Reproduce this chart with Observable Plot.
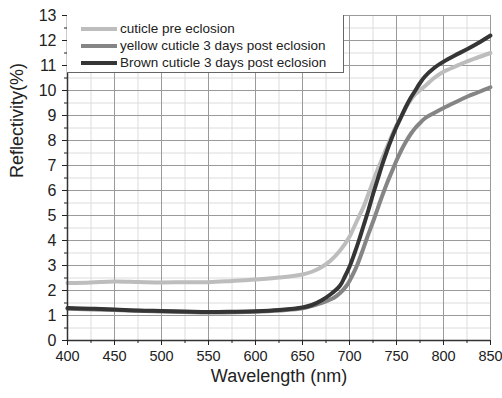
<!DOCTYPE html>
<html><head><meta charset="utf-8">
<script src="https://cdn.jsdelivr.net/npm/d3@7"></script>
<script src="https://cdn.jsdelivr.net/npm/@observablehq/plot@0.6"></script>
<style>
body{margin:0;background:#fff;font-family:"Liberation Sans",Arial,sans-serif;}
#wrap{position:relative;width:502px;height:398px;}
#legend{position:absolute;left:67px;top:15px;width:277px;height:58px;box-sizing:border-box;background:#fff;border:1px solid #666;border-top:none;border-left:none;padding-top:5px;}
.row{display:flex;align-items:center;height:17px;font-size:13.5px;color:#222;white-space:nowrap;}
.sw{width:36px;height:4px;margin-left:14px;margin-right:3px;}
</style></head><body>
<div id="wrap"><div id="legend"></div></div>
<script>
const seriesNames = ["cuticle pre eclosion","yellow cuticle 3 days post eclosion","Brown cuticle 3 days post eclosion"];
const seriesColors = ["#bdbdbd","#858585","#353535"];

const preNm = [400,425,450,475,500,525,550,575,600,625,650,660,670,680,690,700,705,710,715,720,725,730,735,740,745,750,757,763,770,781,790,800,812,823,835,850];
const preVal = [2.30,2.32,2.36,2.34,2.32,2.33,2.33,2.38,2.44,2.52,2.64,2.75,2.93,3.2,3.6,4.15,4.55,4.95,5.35,5.85,6.35,6.85,7.3,7.75,8.2,8.6,9.1,9.5,9.85,10.2,10.5,10.75,10.95,11.13,11.3,11.5];

const yelNm = [400,450,500,550,600,650,670,683,690,697,703,708,713,718.6,726,733,740,745,750,755,760,765,770,775,780,790,800,812,825,837,850];
const yelVal = [1.27,1.22,1.16,1.12,1.15,1.29,1.5,1.7,1.9,2.2,2.6,3.0,3.5,4.1,4.85,5.6,6.3,6.75,7.2,7.6,7.95,8.25,8.5,8.7,8.88,9.1,9.3,9.52,9.75,9.93,10.13];

const brnNm = [400,425,450,475,500,525,550,575,600,625,650,660,670,680,690,695,700,705,710,715,720,725,730,735,740,745,750,755,760,765,770,775,780,790,800,812,825,837,850];
const brnVal = [1.30,1.27,1.24,1.20,1.18,1.16,1.14,1.15,1.17,1.22,1.32,1.42,1.6,1.85,2.2,2.55,2.95,3.45,4.0,4.6,5.2,5.85,6.45,7.05,7.6,8.1,8.55,8.95,9.35,9.7,10.0,10.3,10.55,10.9,11.15,11.4,11.65,11.9,12.2];

const xMajor = [400,450,500,550,600,650,700,750,800,850];
const xMinor = [425,475,525,575,625,675,725,775,825];
const yMajor = [0,1,2,3,4,5,6,7,8,9,10,11,12,13];
const yMinor = [0.5,1.5,2.5,3.5,4.5,5.5,6.5,7.5,8.5,9.5,10.5,11.5,12.5];

const table = [
  ...preNm.map((x,i)=>({x, y:preVal[i], s:seriesNames[0]})),
  ...yelNm.map((x,i)=>({x, y:yelVal[i], s:seriesNames[1]})),
  ...brnNm.map((x,i)=>({x, y:brnVal[i], s:seriesNames[2]}))
];

const chart = Plot.plot({
  width:502, height:398,
  marginLeft:67, marginRight:12, marginTop:15, marginBottom:58,
  x:{domain:[400,850]},
  y:{domain:[0,13]},
  color:{domain:seriesNames, range:seriesColors},
  style:{fontFamily:"Liberation Sans, Arial, sans-serif", fontSize:"16px", color:"#222", background:"#fff"},
  marks:[
    Plot.ruleX(xMinor,{stroke:"#dcdcdc", strokeWidth:1}),
    Plot.ruleY(yMinor,{stroke:"#dcdcdc", strokeWidth:1}),
    Plot.ruleX(xMajor,{stroke:"#9a9a9a", strokeWidth:1}),
    Plot.ruleY(yMajor,{stroke:"#9a9a9a", strokeWidth:1}),
    Plot.line(table,{x:"x", y:"y", z:"s", stroke:"s", strokeWidth:4, curve:"catmull-rom"}),
    Plot.ruleY([0],{stroke:"#333", strokeWidth:1.5}),
    Plot.ruleX([400],{stroke:"#333", strokeWidth:1.5}),
    Plot.axisX({ticks:xMajor, tickSize:5, tickPadding:5, label:null, fontSize:14.5}),
    Plot.axisX({ticks:xMinor, tickSize:3, tickFormat:()=>"", label:null}),
    Plot.axisY({ticks:yMajor, tickSize:5, tickPadding:6, label:null, fontSize:16}),
    Plot.axisY({ticks:yMinor, tickSize:3, tickFormat:()=>"", label:null}),
    Plot.text(["Wavelength (nm)"],{frameAnchor:"bottom", dy:41, fontSize:18, fill:"#222"}),
    Plot.text(["Reflectivity(%)"],{frameAnchor:"left", dx:-50, rotate:-90, fontSize:18, fill:"#222"})
  ]
});
const wrap = document.getElementById("wrap");
wrap.insertBefore(chart, wrap.firstChild);

const lg = document.getElementById("legend");
seriesNames.forEach((n,i)=>{
  const r = document.createElement("div"); r.className="row";
  const sw = document.createElement("span"); sw.className="sw"; sw.style.background=seriesColors[i];
  const t = document.createElement("span"); t.textContent=n;
  r.appendChild(sw); r.appendChild(t); lg.appendChild(r);
});
</script>
</body></html>
